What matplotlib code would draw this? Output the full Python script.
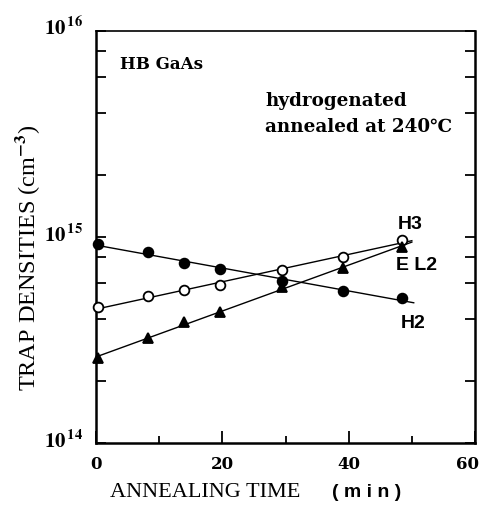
import numpy as np
import matplotlib
matplotlib.use("Agg")
import matplotlib.pyplot as plt
from matplotlib.ticker import FixedLocator, NullFormatter, FixedFormatter
from matplotlib.transforms import ScaledTranslation

# annealing time (min)
time = [0.3, 8.3, 14, 19.7, 29.4, 39.1, 48.5]

# trap densities (cm^-3)
h2 = [9.2e14, 8.43e14, 7.49e14, 7.0e14, 6.1e14, 5.49e14, 5.05e14]
h3 = [4.57e14, 5.15e14, 5.51e14, 5.83e14, 6.89e14, 8.0e14, 9.7e14]
el2 = [2.58e14, 3.23e14, 3.85e14, 4.31e14, 5.72e14, 7.08e14, 8.96e14]

xticks = [0, 20, 40, 60]
xminor = [10, 30, 50]
ylabels = ["14", "15", "16"]

serif = ["Liberation Serif", "DejaVu Serif"]
wide_serif = ["DejaVu Serif"]
sans = ["Liberation Sans", "DejaVu Sans"]
plt.rcParams["mathtext.fontset"] = "stix"

fig = plt.figure(figsize=(4.82, 5.06), dpi=100)
ax = fig.add_axes([96 / 482, 62 / 506, 379 / 482, 412 / 506])
ax.set_yscale("log")
ax.set_xlim(0, 60)
ax.set_ylim(1e14, 1e16)


def fit_line(x, y, x_end):
    k, b = np.polyfit(x, np.log10(y), 1)
    xx = np.array([0, x_end])
    return xx, 10 ** (k * xx + b)


for y, mk, face, xe in [(h2, "o", "black", 50.3), (h3, "o", "white", 50),
                         (el2, "^", "black", 50)]:
    xx, yy = fit_line(time, y, xe)
    ax.plot(xx, yy, color="black", lw=1.0, zorder=2)
    ax.plot(time, y, ls="none", marker=mk, ms=7 if mk == "o" else 6.5,
            mfc=face, mec="black", mew=1.3, zorder=3, clip_on=False)

for s in ax.spines.values():
    s.set_linewidth(1.8)
ax.spines["top"].set_linewidth(1.2)

# ticks
ax.xaxis.set_major_locator(FixedLocator(xticks))
ax.xaxis.set_minor_locator(FixedLocator(xminor))
ax.set_xticklabels([str(t) for t in xticks], fontfamily=wide_serif,
                   fontweight="bold", fontsize=12)
ax.tick_params(axis="x", which="major", direction="in", length=9, width=1.3,
               top=False, pad=9)
ax.tick_params(axis="x", which="minor", direction="in", length=5, width=1.3,
               top=False)
last = ax.get_xticklabels()[-1]
last.set_transform(last.get_transform()
                   + ScaledTranslation(-7 / 100, 0, fig.dpi_scale_trans))

ax.yaxis.set_major_locator(FixedLocator([1e14, 1e15, 1e16]))
ax.yaxis.set_minor_locator(FixedLocator(
    [m * 10 ** e for e in (14, 15) for m in (2, 4, 6, 8)]))
ax.yaxis.set_minor_formatter(NullFormatter())
ax.yaxis.set_major_formatter(FixedFormatter(
    [r"$\mathbf{10^{\,%s}}$" % e for e in ylabels]))
ax.tick_params(axis="y", which="both", direction="in", length=7, width=1.3,
               left=True, right=True, labelsize=15, pad=9)
for lab in ax.get_yticklabels():
    lab.set_va("baseline")
    lab.set_transform(lab.get_transform()
                      + ScaledTranslation(0, -4 / 100, fig.dpi_scale_trans))

# labels on curves
ax.text(47.8, 1.1e15, "H3", fontfamily=sans, fontweight="bold", fontsize=14)
ax.text(47.5, 7.0e14, "E L2", fontfamily=sans, fontweight="bold", fontsize=14)
ax.text(48.2, 3.65e14, "H2", fontfamily=sans, fontweight="bold", fontsize=14)

ax.text(3.8, 6.95e15, "HB GaAs", fontfamily=wide_serif, fontweight="bold",
        fontsize=12, va="center")
ax.text(26.8, 4.65e15, "hydrogenated", fontfamily=wide_serif,
        fontweight="bold", fontsize=13.2, va="center")
ax.text(26.8, 3.45e15, "annealed at 240\u2103", fontfamily=wide_serif,
        fontweight="bold", fontsize=13.2, va="center")

# axis titles
fig.text(0.425, 0.018, "ANNEALING TIME", fontfamily=serif, fontsize=16,
         ha="center", va="baseline")
fig.text(0.760, 0.018, "( m i n )", fontfamily=sans, fontweight="bold",
         fontsize=14, ha="center", va="baseline")
fig.text(0.057, 0.491, "TRAP DENSITIES (cm$^{\\mathbf{-3}}$)",
         fontfamily=serif, fontsize=17.5, rotation=90, ha="center",
         va="center")

fig.savefig("out.png", dpi=100)
